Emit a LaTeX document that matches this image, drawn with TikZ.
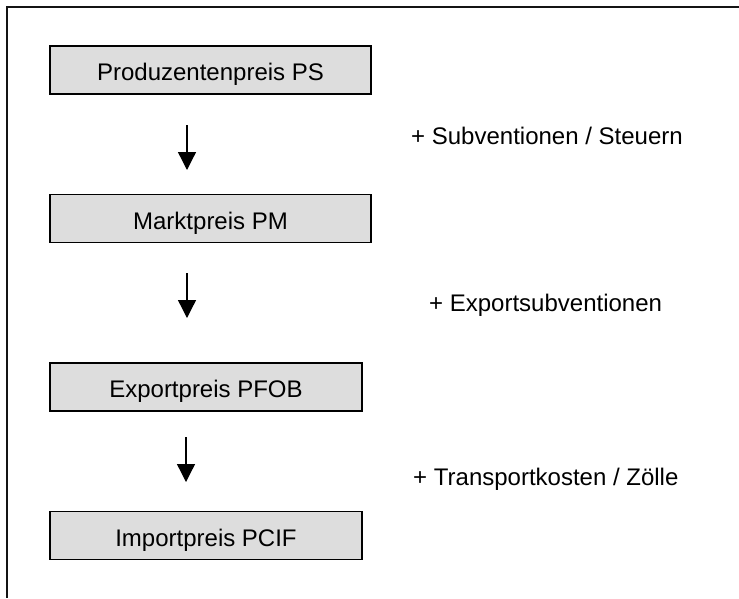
\documentclass[tikz,border=0pt]{standalone}
\usepackage{fontspec}
\setmainfont{Liberation Sans}
\usetikzlibrary{arrows.meta}
\definecolor{boxgray}{RGB}{221,221,221}
\definecolor{framec}{RGB}{20,20,20}
\tikzset{
  pricebox/.style={draw=black, line width=1.8pt, fill=boxgray, inner sep=0pt,
    minimum height=48pt, text height=21pt, text depth=0pt,
    font=\fontsize{24}{28}\selectfont},
  addlabel/.style={anchor=base west, inner sep=0pt, font=\fontsize{24}{28}\selectfont},
  flowarrow/.style={line width=1.3pt, -{Triangle[width=18pt,length=18pt]}}
}
\begin{document}
\begin{tikzpicture}[x=1pt,y=-1pt]
\useasboundingbox (0,0) rectangle (739,598);
% frame (top and left sides only)
\draw[framec, line width=2pt] (739,6.5) -- (6.5,6.5) -- (6.5,598);
% boxes
\node[pricebox, minimum width=321pt] (b1) at (210.5,70) {Produzentenpreis PS};
\node[pricebox, minimum width=321pt] (b2) at (210.5,218.5) {Marktpreis PM};
\node[pricebox, minimum width=312pt] (b3) at (206,387) {Exportpreis PFOB};
\node[pricebox, minimum width=312pt] (b4) at (206,535.5) {Importpreis PCIF};
% arrows
\coordinate (a1s) at (187,125);
\coordinate (a1e) at (187,170);
\coordinate (a2s) at (187,273);
\coordinate (a2e) at (187,318);
\coordinate (a3s) at (186,437);
\coordinate (a3e) at (186,482);
\draw[flowarrow] (a1s) -- (a1e);
\draw[flowarrow] (a2s) -- (a2e);
\draw[flowarrow] (a3s) -- (a3e);
% labels
\node[addlabel] (l1) at (411,144.5) {+ Subventionen / Steuern};
\node[addlabel] (l2) at (429,311) {+ Exportsubventionen};
\node[addlabel] (l3) at (413,485) {+ Transportkosten / Zölle};
\end{tikzpicture}
\end{document}
